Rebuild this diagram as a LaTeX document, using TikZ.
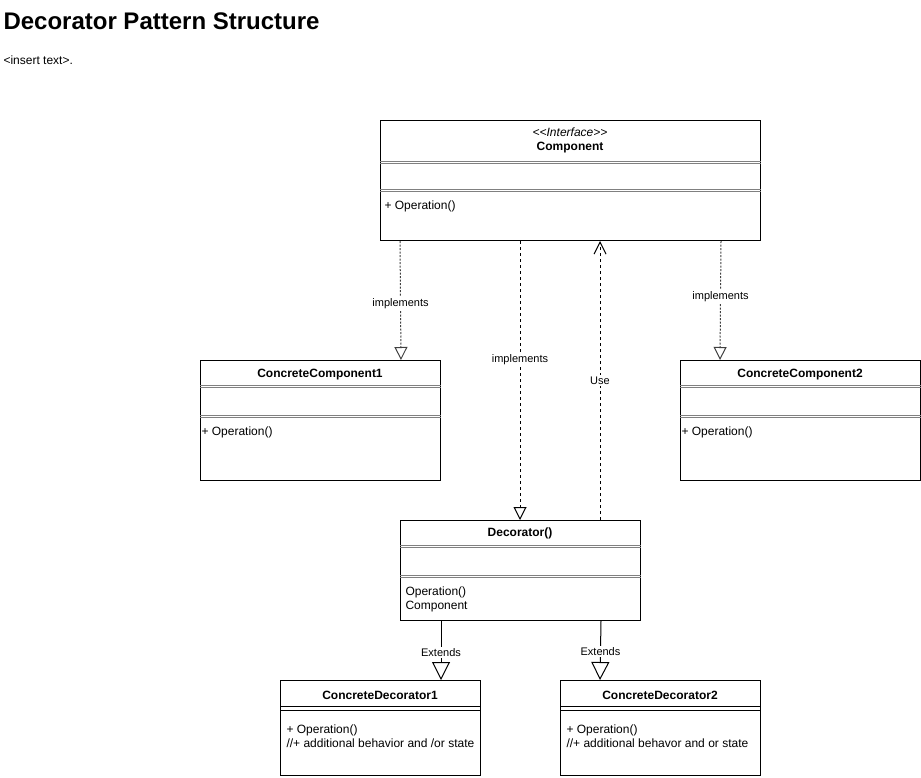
\documentclass[tikz,border=0pt]{standalone}
\usepackage{fontspec}
\setmainfont{Liberation Sans}
\usetikzlibrary{arrows.meta,positioning}

\begin{document}
\begin{tikzpicture}[x=1pt,y=-1pt,line width=1pt]
	  \tikzstyle{every node} = [font=\fontsize{11}{14}\selectfont, inner sep=0pt]
	  \tikzstyle{classbox} = [draw, rectangle, anchor=north west]
	  \tikzstyle{cname} = [font=\bfseries\fontsize{12}{14}\selectfont]
	  \tikzstyle{ops} = [anchor=west, align=left, font=\fontsize{12}{14}\selectfont]
	  \tikzstyle{sep} = [line width=0.8pt, draw=black!50]
	  \tikzstyle{lbl} = [fill=white, inner sep=1.5pt]
	  \tikzstyle{realize} = [dash pattern=on 3pt off 3pt, -{Triangle[open,length=13pt,width=13pt]}]
	  \tikzstyle{extends} = [-{Triangle[open,length=18pt,width=18pt]}]
	  \useasboundingbox (0,0) rectangle (921,777);
	  \node[anchor=base west, font=\bfseries\fontsize{24}{28}\selectfont] (title) at (3,29) {Decorator Pattern Structure};
	  \node[anchor=west, font=\fontsize{12}{14}\selectfont] (sub) at (3,60) {{<}insert text{>}.};
	  % class boxes
	  \node[classbox, minimum width=380pt, minimum height=120pt] (1) at (380,120) {};
	  \node[classbox, minimum width=240pt, minimum height=120pt] (2) at (200,360) {};
	  \node[classbox, minimum width=240pt, minimum height=120pt] (3) at (680,360) {};
	  \node[classbox, minimum width=240pt, minimum height=100pt] (4) at (400,520) {};
	  \node[classbox, minimum width=200pt, minimum height=95pt] (5) at (280,680) {};
	  \node[classbox, minimum width=200pt, minimum height=95pt] (6) at (560,680) {};
	  \foreach \n/\a in {1/42,1/70,2/26,2/56,3/26,3/56,4/26.5,4/56}
	    \foreach \d in {-0.9,0.9}
	      \draw[sep] ([yshift=-\a+\d]\n.north west) -- ([yshift=-\a+\d]\n.north east);
	  \foreach \n in {5,6}
	    \foreach \d in {-2,2}
	      \draw[sep, draw=black] ([yshift=-28+\d]\n.north west) -- ([yshift=-28+\d]\n.north east);
	  % texts
	  \node[font=\itshape\fontsize{12}{14}\selectfont] (1s) at (570,132) {{<}{<}Interface{>}{>}};
	  \node[cname] (1n) at (570,148) {Component};
	  \node[ops] (1o) at (384,206) {+ Operation()};
	  \node[cname] (2n) at (320,375) {ConcreteComponent1};
	  \node[ops] (2o) at (201,432) {+ Operation()};
	  \node[cname] (3n) at (800,375) {ConcreteComponent2};
	  \node[ops] (3o) at (681,432) {+ Operation()};
	  \node[cname] (4n) at (520,533) {Decorator()};
	  \node[ops] (4o) at (405,599) {Operation()\\Component};
	  \node[cname] (5n) at (380,695) {ConcreteDecorator1};
	  \node[ops] (5o) at (286,736) {+ Operation()\\//+ additional behavior and /or state};
	  \node[cname] (6n) at (660,695) {ConcreteDecorator2};
	  \node[ops] (6o) at (566,736) {+ Operation()\\//+ additional behavor and or state};
	  % connectors
	  \draw[realize, dash pattern=on 2pt off 1.5pt, draw=black!75] ([xshift=20]1.south west) -- node[lbl, pos=0.53, text=black]{implements} ([xshift=-40]2.north east);
	  \draw[realize] ([xshift=140]1.south west) -- node[lbl, pos=0.425]{implements} ([xshift=120]4.north west);
	  \draw[dash pattern=on 3pt off 3pt, -{Straight Barb[length=12pt,width=12pt]}] ([xshift=200]4.north west) -- node[lbl]{Use} ([xshift=220]1.south west);
	  \draw[realize, dash pattern=on 2pt off 1.5pt, draw=black!75] ([xshift=-40]1.south east) -- node[lbl, pos=0.47, text=black]{implements} ([xshift=40]3.north west);
	  \draw[extends] ([xshift=41]4.south west) -- node[lbl, pos=0.53]{Extends} ([xshift=161]5.north west);
	  \draw[extends] ([xshift=-40]4.south east) -- node[lbl, pos=0.52]{Extends} ([xshift=40]6.north west);
	\end{tikzpicture}
\end{document}
